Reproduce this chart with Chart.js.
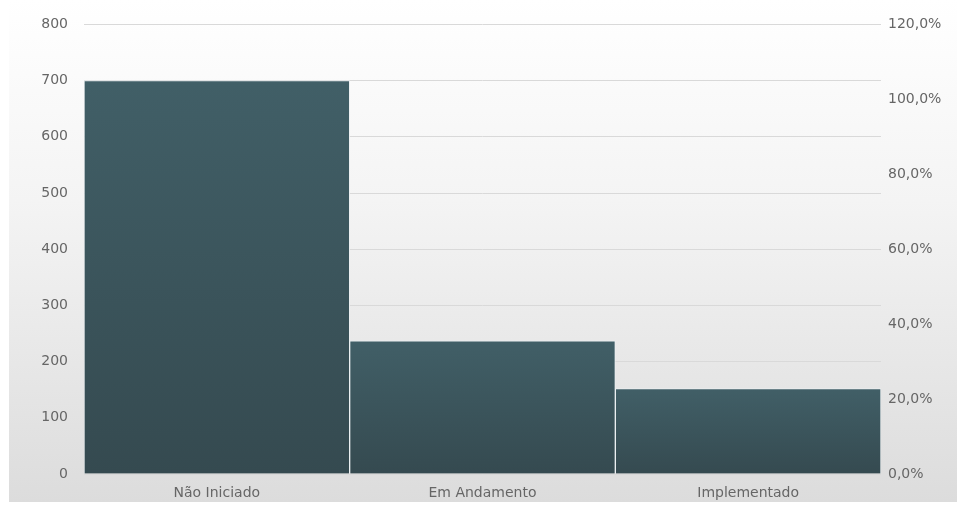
<!DOCTYPE html>
<html>
<head>
<meta charset="utf-8">
<script src="https://cdn.jsdelivr.net/npm/chart.js@4.4.0/dist/chart.umd.min.js"></script>
<style>
  html, body { margin: 0; padding: 0; background: #ffffff; }
  #wrap {
    position: absolute; left: 9px; top: 0;
    width: 948px; height: 502px;
    background: linear-gradient(to bottom, #ffffff 0%, #f4f4f4 40%, #dcdcdc 100%);
  }
</style>
</head>
<body>
<div id="wrap"><canvas id="chart" width="948" height="502"></canvas></div>
<script>
const categories = ['Não Iniciado', 'Em Andamento', 'Implementado'];
const counts = [700, 237, 152];
const leftTicks = [0, 100, 200, 300, 400, 500, 600, 700, 800];
const rightTicks = [0, 20, 40, 60, 80, 100, 120];

const ctx = document.getElementById('chart').getContext('2d');

// gradient per bar, from its top to the baseline
function barFill(context) {
    const chart = context.chart;
    const area = chart.chartArea;
    if (!area) return '#3d5960';
    const y = chart.scales.y;
    const top = y.getPixelForValue(context.raw);
    const base = y.getPixelForValue(0);
    const g = chart.ctx.createLinearGradient(0, top, 0, base);
    g.addColorStop(0, '#415f67');
    g.addColorStop(1, '#354a50');
    return g;
}

const tickFont = { family: 'DejaVu Sans', size: 14 };
const tickColor = '#666666';

new Chart(ctx, {
    type: 'bar',
    data: {
        labels: categories,
        datasets: [{
            data: counts,
            backgroundColor: barFill,
            borderColor: 'rgba(235,240,242,0.9)',
            borderWidth: 1,
            barPercentage: 1,
            categoryPercentage: 1,
            yAxisID: 'y'
        }]
    },
    options: {
        responsive: false,
        animation: false,
        layout: { padding: { top: 16, right: 0, bottom: 0, left: 0 } },
        plugins: {
            legend: { display: false },
            tooltip: { enabled: false }
        },
        scales: {
            x: {
                grid: { display: false },
                border: { display: false },
                ticks: { color: tickColor, font: tickFont, padding: 3 },
                afterFit: (s) => { s.height = 28; }
            },
            y: {
                min: leftTicks[0],
                max: leftTicks[leftTicks.length - 1],
                afterBuildTicks: (s) => { s.ticks = leftTicks.map(v => ({ value: v })); },
                grid: { color: '#d9d9d9', drawTicks: false, lineWidth: 1 },
                border: { display: false },
                ticks: { color: tickColor, font: tickFont, padding: 16 },
                afterFit: (s) => { s.width = 75; }
            },
            y1: {
                position: 'right',
                min: rightTicks[0],
                max: rightTicks[rightTicks.length - 1],
                afterBuildTicks: (s) => { s.ticks = rightTicks.map(v => ({ value: v })); },
                grid: { display: false, drawTicks: false },
                border: { display: false },
                ticks: {
                    color: tickColor, font: tickFont, padding: 7,
                    callback: (v) => v.toFixed(1).replace('.', ',') + '%'
                },
                afterFit: (s) => { s.width = 76; }
            }
        }
    }
});
</script>
</body>
</html>
